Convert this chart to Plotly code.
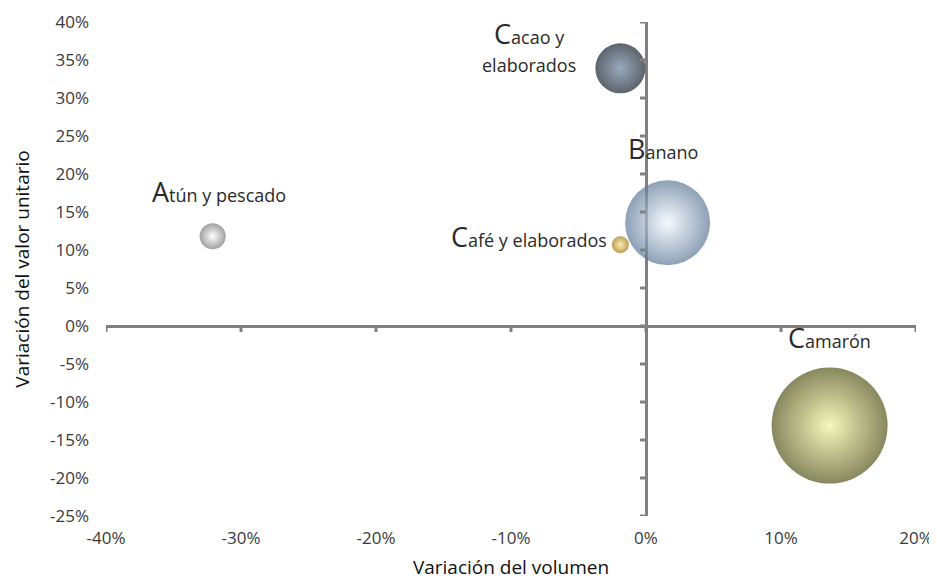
import plotly.graph_objects as go

products = ["Atún y pescado", "Cacao y elaborados", "Banano", "Café y elaborados", "Camarón"]
vol_change = [-32.1, -1.9, 1.6, -1.9, 13.6]        # Variación del volumen (%)
price_change = [11.8, 33.9, 13.6, 10.7, -13.1]     # Variación del valor unitario (%)
bubble_value = [68, 250, 722, 29, 1345]            # relative bubble size (area)

x_ticks = [-40, -30, -20, -10, 0, 10, 20]
y_ticks = [-25, -20, -15, -10, -5, 0, 5, 10, 15, 20, 25, 30, 35, 40]

edge_colors = ["#777777", "#18212d", "#5d7896", "#9a7410", "#55551a"]
center_colors = ["#ffffff", "#6f85a2", "#f2f8ff", "#fde78e", "#f2f29e"]

label_lines = [
    ["<span style='font-size:27px'>A</span>tún y pescado"],
    ["<span style='font-size:27px'>C</span>acao y", "elaborados"],
    ["<span style='font-size:27px'>B</span>anano"],
    ["<span style='font-size:27px'>C</span>afé y elaborados"],
    ["<span style='font-size:27px'>C</span>amarón"],
]
label_xanchor = ["center", "center", "center", "right", "center"]
label_yanchor = ["bottom", "middle", "bottom", "middle", "bottom"]
label_xshift = [6, -91, -5, -11, 0]
label_yshift = [24, 35, 54, 8, 68]
LINE_GAP = 32

FONT = "'Open Sans', Lato, sans-serif"
max_d = 116
sizeref = 2 * max(bubble_value) / max_d ** 2

fig = go.Figure()
for i, name in enumerate(products):
    fig.add_trace(go.Scatter(
        x=[vol_change[i]], y=[price_change[i]], mode="markers", name=name,
        marker=dict(size=[bubble_value[i]], sizemode="area", sizeref=sizeref,
                    color=edge_colors[i],
                    gradient=dict(type="radial", color=center_colors[i]),
                    line=dict(width=0)),
        showlegend=False, hoverinfo="skip",
    ))

for i, name in enumerate(products):
    for k, line in enumerate(label_lines[i]):
        fig.add_annotation(
            x=vol_change[i], y=price_change[i], text=line, showarrow=False,
            xanchor=label_xanchor[i], yanchor=label_yanchor[i],
            xshift=label_xshift[i], yshift=label_yshift[i] - k * LINE_GAP,
            font=dict(family=FONT, size=18, color="#2a2a2a"), align="center",
        )

# small tick marks on the crossing axes
for t in x_ticks:
    fig.add_shape(type="line", xref="x", yref="y", xsizemode="scaled",
                  ysizemode="pixel", yanchor=0, x0=t, x1=t, y0=0, y1=-6,
                  line=dict(color="#808080", width=3))
for t in y_ticks:
    fig.add_shape(type="line", xref="x", yref="y", ysizemode="scaled",
                  xsizemode="pixel", xanchor=0, x0=0, x1=-6, y0=t, y1=t,
                  line=dict(color="#808080", width=3))

# page body has an 8px margin: size figure so plot area lands at 106..916 x 22..516
fig.update_layout(
    width=929, height=572,
    margin=dict(l=98, r=21, t=14, b=64),
    paper_bgcolor="white", plot_bgcolor="white",
    font=dict(family=FONT, color="#333333"),
)
fig.update_xaxes(
    range=[-40, 20], tickvals=x_ticks, ticktext=[f"{v}%" for v in x_ticks],
    showgrid=False, showline=False, zeroline=True, zerolinecolor="#808080",
    zerolinewidth=3, ticks="", ticklabelstandoff=10, automargin=False,
    tickfont=dict(family=FONT, size=17, color="#3a3a3a"),
    title=dict(text="Variación del volumen",
               font=dict(family=FONT, size=19, color="#111111")),
)
fig.update_yaxes(
    range=[-25, 40], tickvals=y_ticks, ticktext=[f"{v}%" for v in y_ticks],
    showgrid=False, showline=False, zeroline=True, zerolinecolor="#808080",
    zerolinewidth=3, ticks="", ticklabelstandoff=16, automargin=False,
    tickfont=dict(family=FONT, size=17, color="#3a3a3a"),
    title=dict(text="Variación del valor unitario",
               font=dict(family=FONT, size=19, color="#111111")),
)

fig.write_html("out.html")
